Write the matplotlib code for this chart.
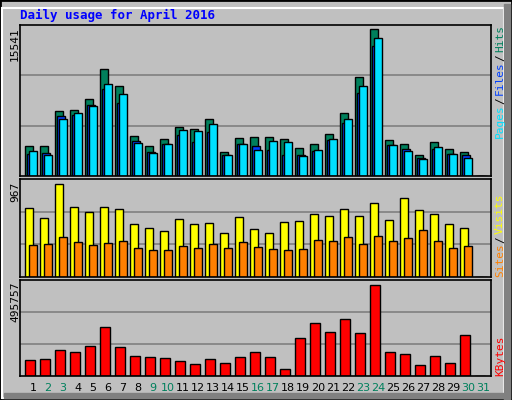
import matplotlib
matplotlib.use("Agg")
import matplotlib.pyplot as plt
from matplotlib.patches import Rectangle

days = list(range(1, 32))
hits = [3172,3172,6872,6977,8140,11312,9515,4229,3172,3912,5180,4969,6026,2537,4017,4123,4123,3912,2960,3383,4440,6660,10466,15541,3806,3383,2220,3595,2854,2537,0]
files = [2325,2431,6342,6448,7505,9196,7716,3700,2537,3383,4334,3594,4651,2220,3383,3171,2748,2220,2220,2643,3805,5602,8773,13741,3277,2854,1903,2854,2325,2220,0]
pages = [2643,2220,6025,6660,7399,9725,8668,3488,2431,3383,4862,4757,5497,2220,3383,2748,3700,3594,2114,2748,3911,6025,9514,14587,3277,2643,1797,3065,2325,1903,0]
visits = [714,611,967,725,672,725,704,548,506,475,600,548,558,454,621,496,454,569,579,651,630,704,630,765,590,820,695,653,548,506,0]
sites = [328,338,411,360,328,349,370,297,276,276,318,297,338,297,360,311,286,276,286,380,370,411,338,422,370,401,485,370,297,318,0]
kbytes = [88609,94037,142890,132033,164603,267740,159175,110322,104893,99464,83180,66895,94037,72323,104893,132033,104893,39754,208031,289454,240601,311168,234173,495757,132033,121176,61466,110322,72323,222505,0]
title = "Daily usage for April 2016"
weekend = {2,3,9,10,16,17,23,24,30,31}

W, H = 512, 400
fig = plt.figure(figsize=(W/100, H/100), dpi=100)
fig.patch.set_facecolor("#C0C0C0")
mono = "DejaVu Sans Mono"

# bevel border
fig.add_artist(Rectangle((0, 0), 1, 1, transform=fig.transFigure, fill=False, ec="black", lw=2))
fig.add_artist(Rectangle((2/W, 2/H), 1-10/W, 1-10/H, transform=fig.transFigure, fill=False, ec="white", lw=1.5))
fig.add_artist(Rectangle((1-8/W, 0), 6/W, 1-4/H, transform=fig.transFigure, color="#808080"))
fig.add_artist(Rectangle((4/W, 2/H), 1-10/W, 5/H, transform=fig.transFigure, color="#808080"))

L, R = 20, 491
def mkax(top, bot):
    ax = fig.add_axes([L/W, 1-bot/H, (R-L)/W, (bot-top)/H])
    ax.set_facecolor("#C0C0C0")
    ax.set_xlim(1-5/15, 1-5/15 + (R-L)/15)
    ax.set_xticks([]); ax.set_yticks([])
    for s in ax.spines.values():
        s.set_color("black"); s.set_linewidth(1.2)
    return ax

def gridlines(ax, top):
    for f in (1/3, 2/3):
        ax.axhline(top*f, color="#808080", lw=1.2, zorder=0)

# top panel
ax1 = mkax(25, 176)
top1 = 15541*151/147
ax1.set_ylim(0, top1); gridlines(ax1, top1)
xs = [d for d in days]
ax1.bar([d for d in xs], hits, width=8/15, align="edge", color="#00805C", ec="black", lw=1)
ax1.bar([d+2/15 for d in xs], files, width=8/15, align="edge", color="#0040FF", ec="black", lw=1)
ax1.bar([d+4/15 for d in xs], pages, width=8/15, align="edge", color="#00E0FF", ec="black", lw=1)

ax2 = mkax(179, 277)
top2 = 967*98/93
ax2.set_ylim(0, top2); gridlines(ax2, top2)
ax2.bar(xs, visits, width=8/15, align="edge", color="#FFFF00", ec="black", lw=1)
ax2.bar([d+4/15 for d in xs], sites, width=8/15, align="edge", color="#FF8000", ec="black", lw=1)

ax3 = mkax(280, 376)
top3 = 495757*96/91.3
ax3.set_ylim(0, top3); gridlines(ax3, top3)
ax3.bar(xs, kbytes, width=10/15, align="edge", color="#FF0000", ec="black", lw=1)

for d in days:
    ax3.text(d+0.53, -0.07, str(d), transform=ax3.get_xaxis_transform(), ha="center", va="top",
             fontsize=8, family="DejaVu Sans", color="#00805C" if d in weekend else "black")

fig.text(20/W, 1-15/H, title, family=mono, fontweight="bold", fontsize=9, color="#0000FF", va="center")
for y, lab in ((27, "15541"), (182, "967"), (282, "495757")):
    fig.text(15/W, 1-y/H, lab, rotation=90, family=mono, fontsize=8, ha="center", va="top")

def rlabel(parts, ybot):
    y = ybot
    for txt, col in parts:
        t = fig.text(500/W, 1-y/H, txt, rotation=90, family=mono, fontsize=8, color=col, ha="center", va="bottom")
        y -= len(txt)*6.2 + 3
rlabel([("Pages", "#00E0FF"), ("/", "black"), ("Files", "#0040FF"), ("/", "black"), ("Hits", "#00805C")], 138)
rlabel([("Sites", "#FF8000"), ("/", "black"), ("Visits", "#FFFF00")], 277)
rlabel([("KBytes", "#FF0000")], 376)

fig.savefig("out.png", dpi=100, facecolor=fig.get_facecolor())
